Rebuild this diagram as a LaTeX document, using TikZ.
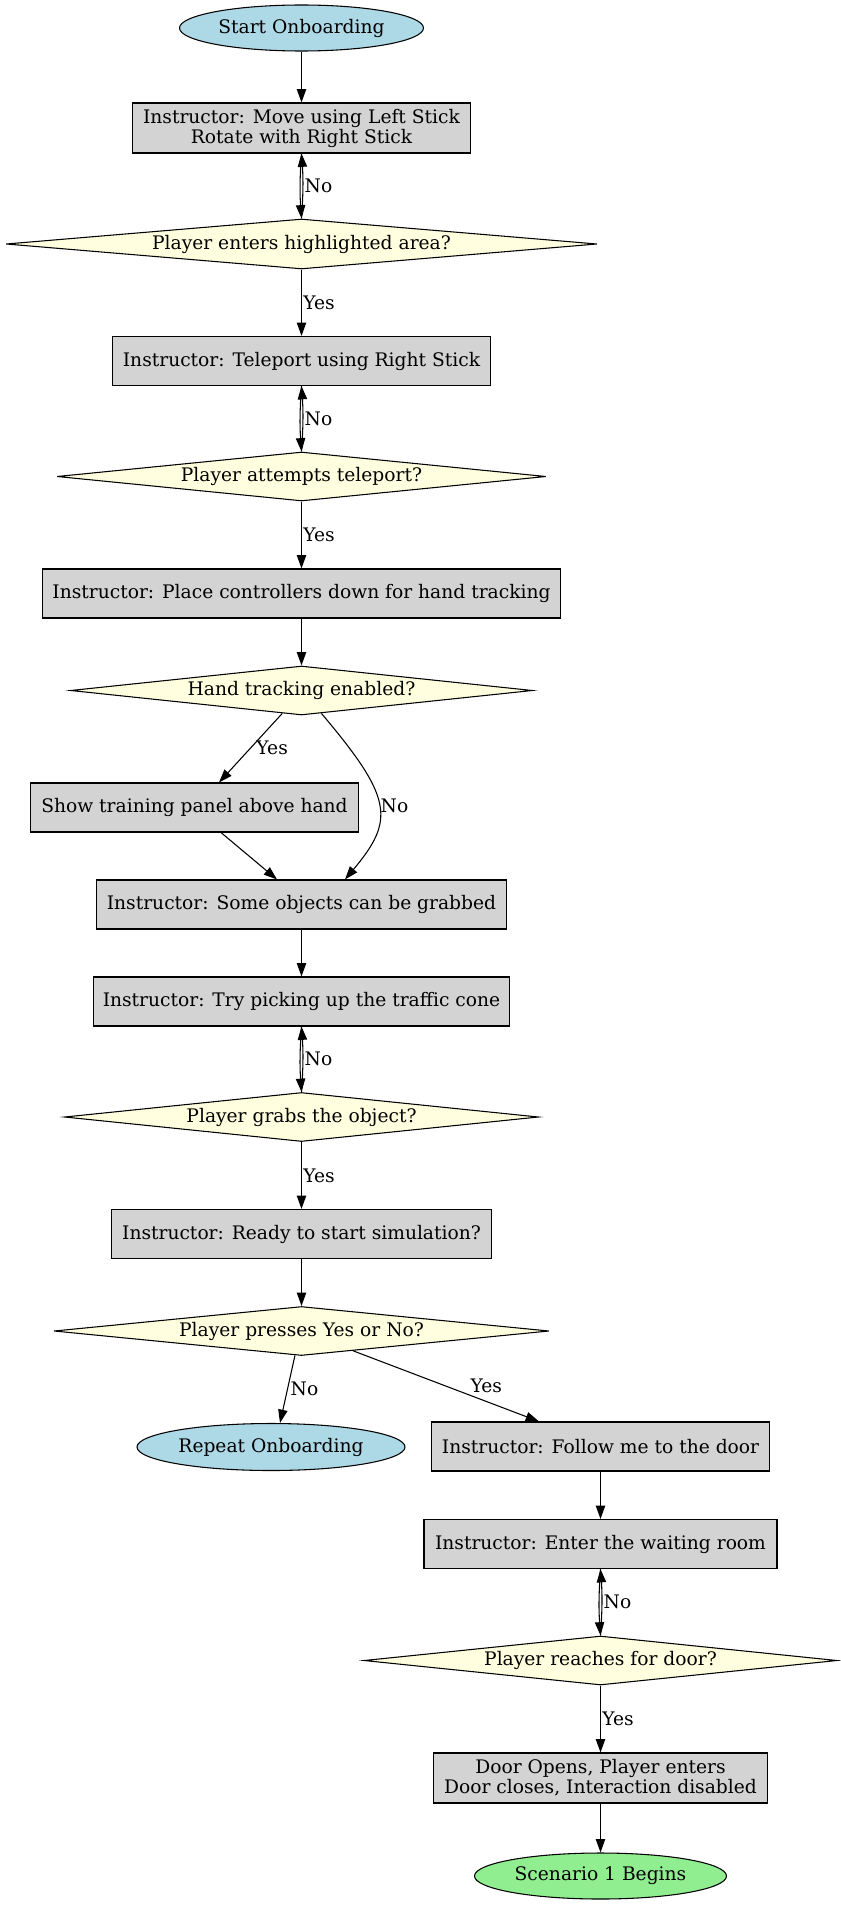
\documentclass[tikz,border=0pt]{standalone}
\usepackage{fontspec}
\setmainfont{DejaVu Serif}
\usetikzlibrary{shapes.geometric,arrows.meta,calc}

\definecolor{termblue}{HTML}{ADD8E6}
\definecolor{termgreen}{HTML}{90EE90}
\definecolor{boxgrey}{HTML}{D3D3D3}
\definecolor{decyellow}{HTML}{FFFFE0}

\begin{document}
\begin{tikzpicture}[x=0.75pt,y=-0.75pt,
  every node/.style={font=\fontsize{14pt}{15pt}\selectfont},
  sz/.style 2 args={minimum width=#1*0.75pt, minimum height=#2*0.75pt},
  base/.style={draw=black, line width=0.8pt, inner sep=0pt},
  terminal/.style={base, ellipse, fill=termblue},
  box/.style={base, rectangle, fill=boxgrey, align=center},
  decision/.style={base, diamond, fill=decyellow},
  arr/.style={-{Triangle[length=10pt,width=7pt]}, line width=0.8pt},
  lbl/.style={inner sep=1pt}
]
\useasboundingbox (0,0) rectangle (840,1905);

% nodes
\node[terminal, sz={244}{46}] (start) at (301.5,28) {Start Onboarding};
\node[box, sz={338}{50}] (b1) at (301.5,128) {Instructor: Move using Left Stick\\Rotate with Right Stick};
\node[decision, sz={591}{50}, label=center:{Player enters highlighted area?}] (d1) at (301.5,244) {};
\node[box, sz={378}{49}] (b2) at (301.5,361) {Instructor: Teleport using Right Stick};
\node[decision, sz={489}{49}, label=center:{Player attempts teleport?}] (d2) at (301.5,476.5) {};
\node[box, sz={518}{49}] (b3) at (301.5,593.5) {Instructor: Place controllers down for hand tracking};
\node[decision, sz={462}{49}, label=center:{Hand tracking enabled?}] (d3) at (301.5,690.5) {};
\node[box, sz={328}{49}] (b4) at (194.5,807.5) {Show training panel above hand};
\node[box, sz={410}{49}] (b5) at (301.5,904.5) {Instructor: Some objects can be grabbed};
\node[box, sz={416}{49}] (b6) at (301.5,1001.5) {Instructor: Try picking up the traffic cone};
\node[decision, sz={474}{49}, label=center:{Player grabs the object?}] (d4) at (301.5,1117) {};
\node[box, sz={380}{49}] (b7) at (301.5,1234) {Instructor: Ready to start simulation?};
\node[decision, sz={495}{49}, label=center:{Player presses Yes or No?}] (d5) at (301.5,1331) {};
\node[terminal, sz={268}{47}] (e2) at (271,1447) {Repeat Onboarding};
\node[box, sz={338}{49}] (b8) at (600.5,1446.5) {Instructor: Follow me to the door};
\node[box, sz={353}{49}] (b9) at (600.5,1544) {Instructor: Enter the waiting room};
\node[decision, sz={473}{49}, label=center:{Player reaches for door?}] (d6) at (600.5,1660.5) {};
\node[box, sz={334}{50}] (b10) at (600.5,1778) {Door Opens, Player enters\\Door closes, Interaction disabled};
\node[terminal, fill=termgreen, sz={252}{46}] (e3) at (600.5,1876) {Scenario 1 Begins};

% connectors
\draw[arr] (start) -- (b1);
\draw[arr] (b1.south) to[bend right=4] (d1.north);
\draw[arr] (d1.north) to[bend right=4] node[lbl,right]{No} (b1.south);
\draw[arr] (d1) -- node[lbl,right]{Yes} (b2);
\draw[arr] (b2.south) to[bend right=4] (d2.north);
\draw[arr] (d2.north) to[bend right=4] node[lbl,right]{No} (b2.south);
\draw[arr] (d2) -- node[lbl,right]{Yes} (b3);
\draw[arr] (b3) -- (d3);
\draw[arr] (d3.-130) -- node[lbl,right=3pt]{Yes} ($(b4.north)+(24.5,0)$);
\draw[arr] (d3.-49) .. controls (393,798) and (395,820) .. ($(b5.north)+(43.5,0)$)
  node[lbl,pos=0.5,right]{No};
\draw[arr] ($(b4.south)+(26.5,0)$) -- ($(b5.north)+(-24.5,0)$);
\draw[arr] (b5) -- (b6);
\draw[arr] (b6.south) to[bend right=4] (d4.north);
\draw[arr] (d4.north) to[bend right=4] node[lbl,right]{No} (b6.south);
\draw[arr] (d4) -- node[lbl,right]{Yes} (b7);
\draw[arr] (b7) -- (d5);
\draw[arr] (d5.-105) -- node[lbl,right=1pt]{No} ($(e2.north)+(9,0)$);
\draw[arr] (d5.-21) -- node[lbl,right=17pt]{Yes} ($(b8.north)+(-61.5,0)$);
\draw[arr] (b8) -- (b9);
\draw[arr] (b9.south) to[bend right=4] (d6.north);
\draw[arr] (d6.north) to[bend right=4] node[lbl,right]{No} (b9.south);
\draw[arr] (d6) -- node[lbl,right]{Yes} (b10);
\draw[arr] (b10) -- (e3);
\end{tikzpicture}
\end{document}
